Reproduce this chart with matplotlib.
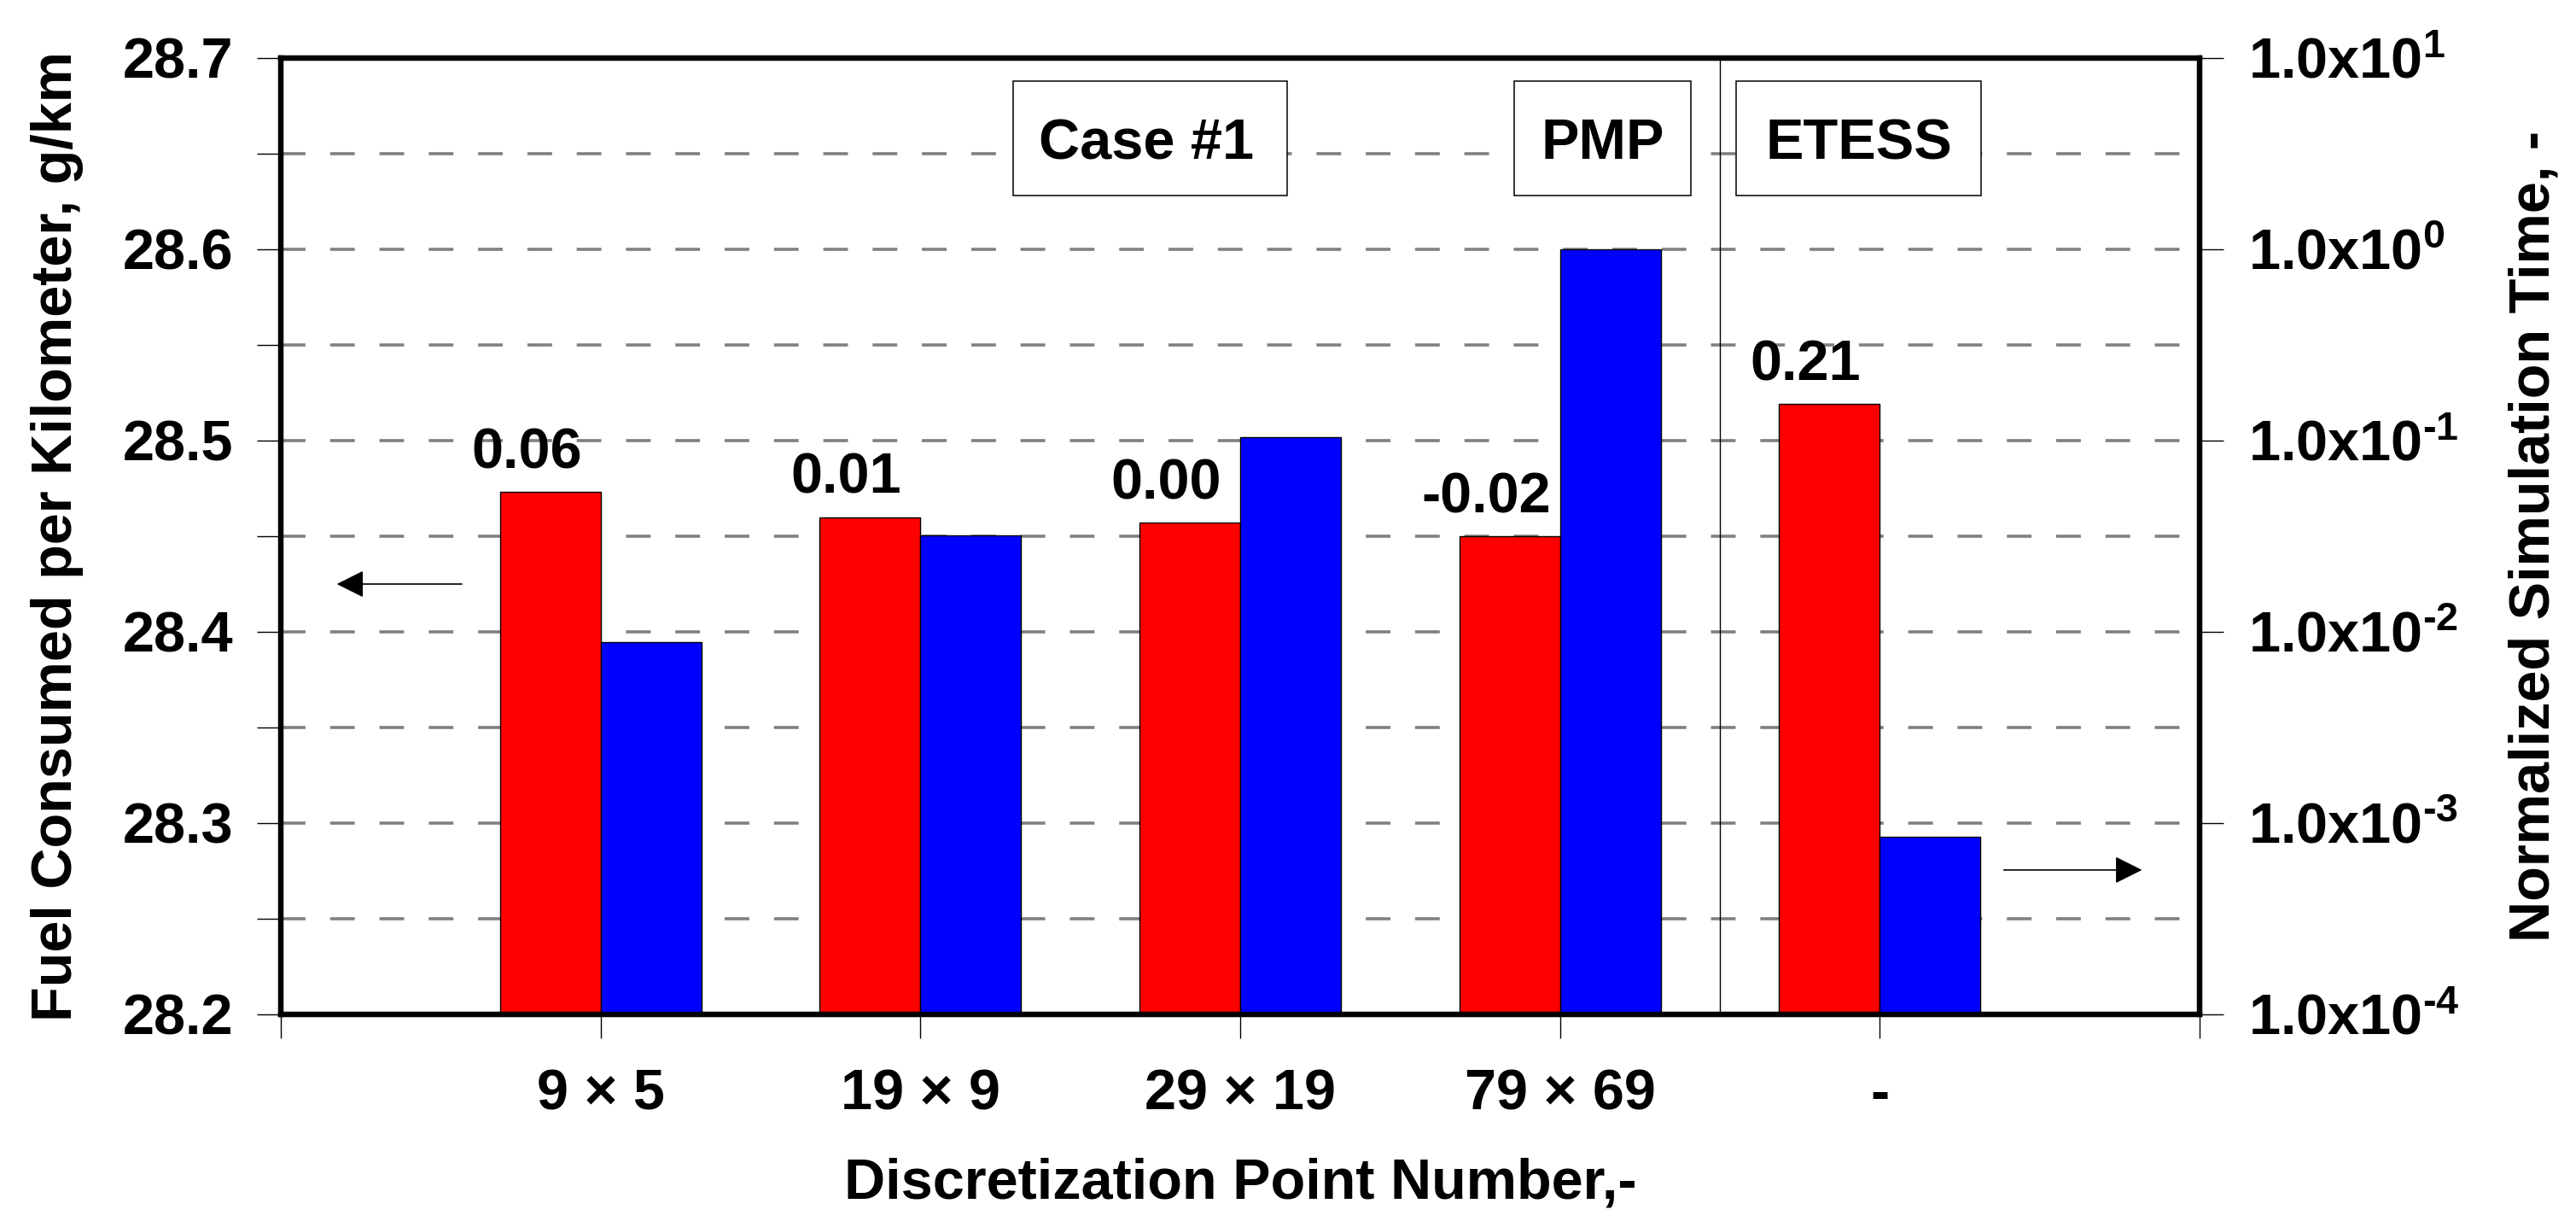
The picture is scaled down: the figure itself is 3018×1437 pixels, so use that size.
import numpy as np
import matplotlib
matplotlib.use("Agg")
import matplotlib.pyplot as plt
from matplotlib.patches import Rectangle
from matplotlib.ticker import FixedLocator, FuncFormatter, NullLocator, FormatStrFormatter

# ---------------- data ----------------
categories = ['9 × 5', '19 × 9', '29 × 19', '79 × 69', '-']
fuel_g_per_km = [28.473, 28.460, 28.457, 28.450, 28.519]      # left axis (red)
norm_sim_time = [0.0088, 0.032, 0.104, 1.0, 0.00085]          # right axis, log (blue)
diff_labels = ['0.06', '0.01', '0.00', '-0.02', '0.21']
left_major_ticks = [28.2, 28.3, 28.4, 28.5, 28.6, 28.7]
left_minor_ticks = [28.25, 28.35, 28.45, 28.55, 28.65]
right_exponents = [-4, -3, -2, -1, 0, 1]
box_texts = ['Case #1', 'PMP', 'ETESS']

# ---------------- style ----------------
plt.rcParams['font.family'] = ['Liberation Sans', 'DejaVu Sans']
plt.rcParams['font.weight'] = 'bold'
plt.rcParams['font.size'] = 48
plt.rcParams['mathtext.fontset'] = 'custom'
plt.rcParams['mathtext.rm'] = 'Liberation Sans:bold'
plt.rcParams['mathtext.bf'] = 'Liberation Sans:bold'
plt.rcParams['mathtext.it'] = 'Liberation Sans:bold'
plt.rcParams['mathtext.default'] = 'bf'

FS = 48
Y2_MIN, Y2_MAX = 1e-4, 1e1
fig = plt.figure(figsize=(30.18, 14.37), dpi=100)
ax = fig.add_axes([0.10901, 0.17328, 0.74486, 0.77940])
ax2 = ax.twinx()

x = np.arange(1, len(categories) + 1)
w = 0.315

# grid (dashed gray, at every 0.05)
ax.set_axisbelow(True)
ax.yaxis.grid(True, which='both', color='#808080', linewidth=2.6,
              linestyle=(0, (8.0, 8.0)))
ax.xaxis.grid(False)

ax.bar(x - w / 2, fuel_g_per_km, width=w, color='#FF0000', edgecolor='black',
       linewidth=1.0, zorder=2)
ax2.bar(x + w / 2, np.array(norm_sim_time) - Y2_MIN, width=w, bottom=Y2_MIN,
        color='#0000FF', edgecolor='black', linewidth=1.0, zorder=2)

ax.set_xlim(0, 6)
ax.set_ylim(28.2, 28.7)
ax2.set_yscale('log')
ax2.set_ylim(Y2_MIN, Y2_MAX)

# ticks
ax.set_xticks(np.arange(0, 7))
ax.set_xticklabels([''] + categories + [''])
ax.yaxis.set_major_locator(FixedLocator(left_major_ticks))
ax.yaxis.set_minor_locator(FixedLocator(left_minor_ticks))
ax.yaxis.set_major_formatter(FormatStrFormatter('%.1f'))
ax.tick_params(axis='y', which='both', direction='out', length=20, width=1.0,
               pad=20, labelsize=FS)
ax.tick_params(axis='x', which='both', direction='out', length=20, width=1.0,
               pad=26, labelsize=FS)


def exp_fmt(v, p):
    e = int(round(np.log10(v)))
    if e < 0:
        return r'$1.0x10^{\text{-}%d}$' % (-e)
    return r'$1.0x10^{%d}$' % e


ax2.yaxis.set_major_locator(FixedLocator([10.0 ** e for e in right_exponents]))
ax2.yaxis.set_minor_locator(NullLocator())
ax2.yaxis.set_major_formatter(FuncFormatter(exp_fmt))
ax2.tick_params(axis='y', which='both', direction='out', length=20, width=1.0,
                pad=21, labelsize=FS)

for a in (ax, ax2):
    for s in a.spines.values():
        s.set_linewidth(4.5)
        s.set_color('black')

# labels
ax.set_xlabel('Discretization Point Number,-', fontsize=FS, fontweight='bold')
ax.xaxis.set_label_coords(0.5, -0.150)
ax.set_ylabel('Fuel Consumed per Kilometer, g/km', fontsize=FS, fontweight='bold')
ax.yaxis.set_label_coords(-0.1028, 0.5)
ax2.set_ylabel('Normalized Simulation Time, -', fontsize=FS, fontweight='bold')
ax2.yaxis.set_label_coords(1.161, 0.5)

# difference labels above red bars
for xi, v, lbl in zip(x, fuel_g_per_km, diff_labels):
    ax.annotate(lbl, xy=(xi - w / 2, v), xytext=(-20, 20),
                textcoords='offset points', ha='center', va='baseline',
                fontsize=FS, fontweight='bold', zorder=5)

# separator line between PMP and ETESS
ax.axvline(4.5, color='black', linewidth=1.0, zorder=1.5)

# text boxes (annotation frames)
box_left = [2.290, 3.857, 4.551]
box_right = [3.147, 4.409, 5.317]
box_bottom, box_top = 28.628, 28.688
text_x = [2.706, 4.133, 4.934]
text_baseline = 28.6473
for bl, br, tx, t in zip(box_left, box_right, text_x, box_texts):
    ax.add_patch(Rectangle((bl, box_bottom), br - bl, box_top - box_bottom,
                           facecolor='white', edgecolor='black',
                           linewidth=1.1, zorder=3))
    ax.text(tx, text_baseline, t, ha='center', va='baseline', fontsize=FS,
            fontweight='bold', zorder=4)

# arrows pointing to the relevant axes
arrow_kw = dict(arrowstyle='-|>,head_length=1.0,head_width=0.5',
                color='black', linewidth=1.2, mutation_scale=20,
                shrinkA=0, shrinkB=0)
ax.annotate('', xy=(0.175, 28.425), xytext=(0.566, 28.425),
            arrowprops=arrow_kw, zorder=4)
ax.annotate('', xy=(5.820, 28.2755), xytext=(5.388, 28.2755),
            arrowprops=arrow_kw, zorder=4)

fig.savefig('out.png', dpi=100, facecolor='white')
